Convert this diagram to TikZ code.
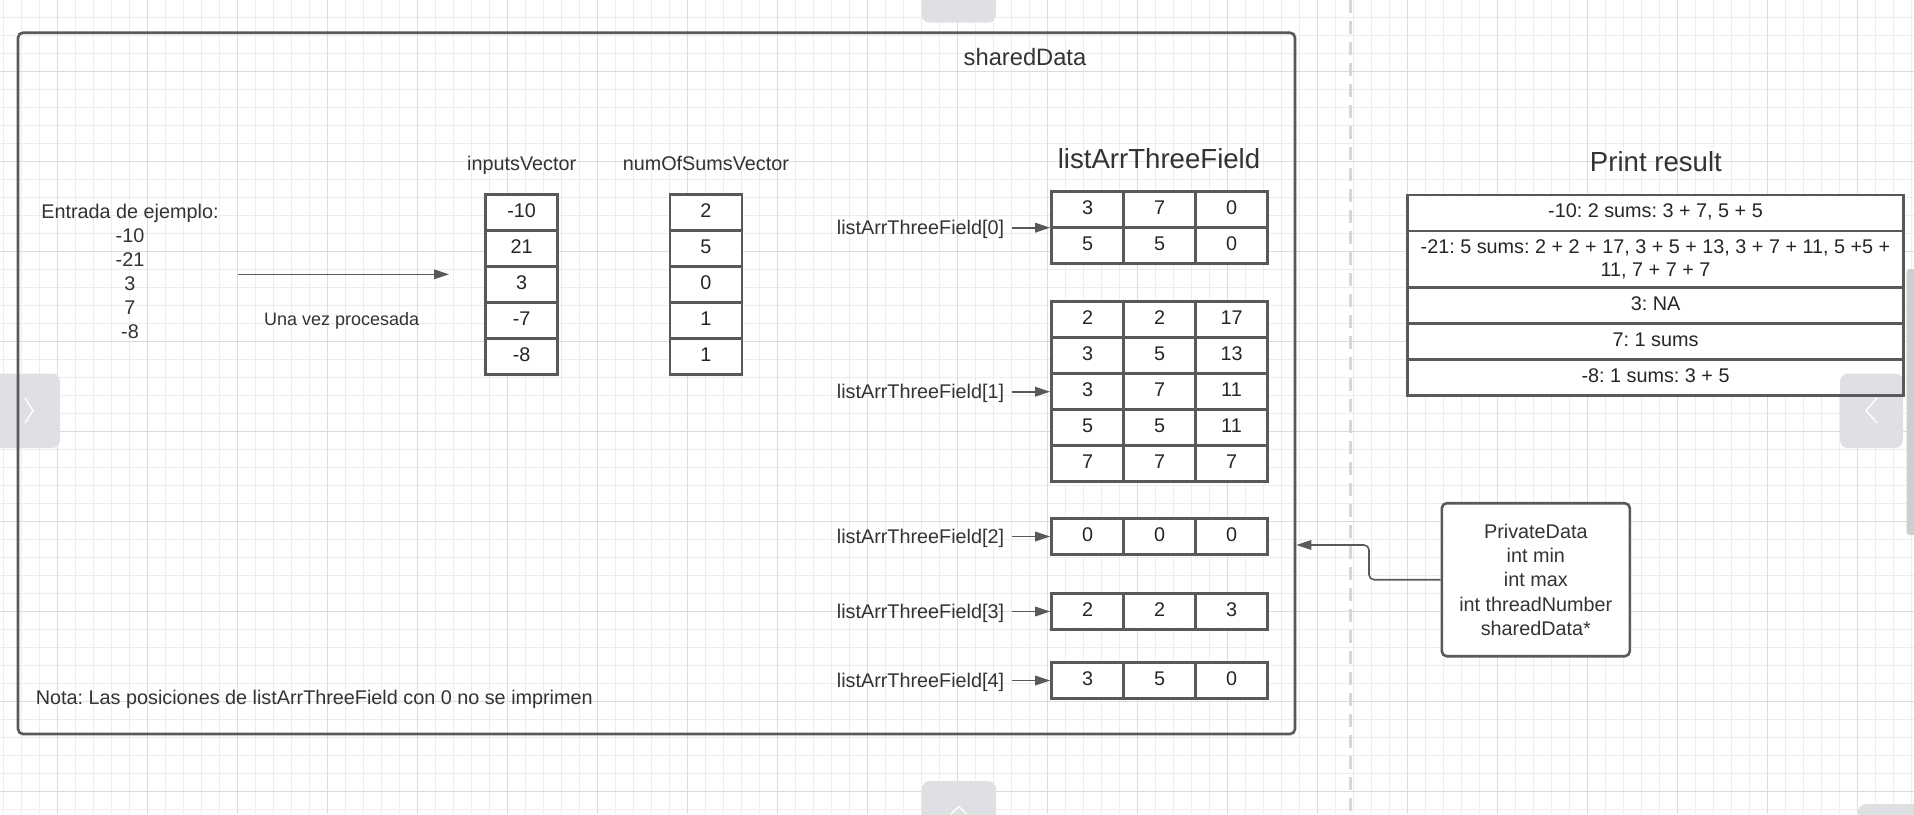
\documentclass[tikz,border=0pt]{standalone}
\usepackage{fontspec}
\setmainfont{Liberation Sans}
\usetikzlibrary{arrows.meta}
\definecolor{lc}{HTML}{595959}
\definecolor{tc}{HTML}{333333}
\definecolor{txtd}{HTML}{262626}
\definecolor{gmin}{HTML}{EDEDED}
\definecolor{gmaj}{HTML}{DCDCDC}
\definecolor{uigray}{HTML}{DFE0E3}
\definecolor{sepgray}{HTML}{D6D6D6}
\frenchspacing
\begin{document}
\begin{tikzpicture}[x=1pt,y=-1pt]
\tikzset{
  txtbase/.style={font=\fontsize{19.8}{24}\selectfont, text=tc, inner sep=0pt},
  cell/.style={txtbase, draw=lc, line width=2.6pt, fill=white, minimum width=72pt, minimum height=36pt, text height=14.2pt, text depth=4.5pt, text=txtd},
  prrow/.style={txtbase, draw=lc, line width=2.6pt, minimum width=496pt, text=txtd},
  arr/.style={draw=lc, line width=1.6pt, -{Triangle[length=15pt,width=9.5pt]}},
  lab/.style={txtbase, anchor=east, text height=14.2pt, text depth=0pt},
  ttl/.style={txtbase, font=\fontsize{27.6}{32}\selectfont, anchor=base},
  uibtn/.style={fill=uigray, rounded corners=8pt},
  chev/.style={draw=white, line width=1.4pt},
}
\useasboundingbox (0,0) rectangle (1914,814);
\fill[white] (0,0) rectangle (1914,814);
% grid
\foreach \x in {3.3,21.3,...,1914} \draw[gmin, line width=1pt] (\x,0) -- (\x,814);
\foreach \y in {17.7,35.7,...,814} \draw[gmin, line width=1pt] (0,\y) -- (1914,\y);
\foreach \x in {57.3,147.3,...,1914} \draw[gmaj, line width=1pt] (\x,0) -- (\x,814);
\foreach \y in {71.7,161.7,...,814} \draw[gmaj, line width=1pt] (0,\y) -- (1914,\y);
% separator
\draw[sepgray, line width=3pt, dash pattern=on 13pt off 8pt] (1350.7,0) -- (1350.7,814);
% print result background
\fill[white] (1407.5,195) rectangle (1903.5,395.5);
% UI overlays
\fill[uibtn] (921.7,-10) rectangle (996,22.7);
\fill[uibtn] (-10,373.5) rectangle (60,448);
\draw[chev] (25,398) -- (33,410.5) -- (25,423);
\fill[uibtn] (1840,373.5) rectangle (1903,448);
\draw[chev] (1877,398) -- (1866,410.5) -- (1877,423);
\fill[uigray!92!black, rounded corners=3pt] (1906.7,269) rectangle (1918,535);
\fill[uibtn] (921.7,781) rectangle (996,830);
\draw[chev] (951,814) -- (958.8,806.5) -- (966.6,814);
\fill[uibtn] (1858,804) rectangle (1930,840);
% frame
\node[draw=lc, line width=2.6pt, rounded corners=5pt, minimum width=1277pt, minimum height=701.3pt, inner sep=0pt] (shared) at (656.5,383.35) {};
\node[txtbase, font=\fontsize{23.7}{28}\selectfont, anchor=base] (sdlab) at (1025,65) {sharedData};
% entrada
\node[txtbase, align=center] (entrada) at (130,271.8) {Entrada de ejemplo:\\-10\\-21\\3\\7\\-8};
\coordinate (a1) at (238,274.3);
\coordinate (a2) at (449,274.3);
\draw[arr] (a1) -- (a2);
\node[txtbase, font=\fontsize{18}{22}\selectfont, anchor=base] (proc) at (341.7,325) {Una vez procesada};
% vectors
\node[txtbase, anchor=base] (ivlab) at (521.7,170.7) {inputsVector};
\node[txtbase, anchor=base] (nslab) at (705.9,170.7) {numOfSumsVector};
\foreach \v [count=\i] in {-10,21,3,-7,-8} \node[cell] (iv\i) at (521.7,{176.3+36*\i}) {\v};
\foreach \v [count=\i] in {2,5,0,1,1} \node[cell] (ns\i) at (705.9,{176.3+36*\i}) {\v};
% listArrThreeField
\node[ttl] (latitle) at (1159,168.3) {listArrThreeField};
\foreach \a/\b/\c [count=\r] in {3/7/0,5/5/0} {
  \node[cell] (t0-\r-1) at (1087.5,{173.7+36*\r}) {\a};
  \node[cell] (t0-\r-2) at (1159.5,{173.7+36*\r}) {\b};
  \node[cell] (t0-\r-3) at (1231.5,{173.7+36*\r}) {\c};
}
\foreach \a/\b/\c [count=\r] in {2/2/17,3/5/13,3/7/11,5/5/11,7/7/7} {
  \node[cell] (t1-\r-1) at (1087.5,{283.7+36*\r}) {\a};
  \node[cell] (t1-\r-2) at (1159.5,{283.7+36*\r}) {\b};
  \node[cell] (t1-\r-3) at (1231.5,{283.7+36*\r}) {\c};
}
\foreach \k/\y/\a/\b/\c in {2/536.5/0/0/0,3/611.5/2/2/3,4/680.5/3/5/0} {
  \node[cell] (t\k-1-1) at (1087.5,\y) {\a};
  \node[cell] (t\k-1-2) at (1159.5,\y) {\b};
  \node[cell] (t\k-1-3) at (1231.5,\y) {\c};
}
\node[lab] (l0) at (1004.3,227.7) {listArrThreeField[0]};
\node[lab] (l1) at (1004.3,391.7) {listArrThreeField[1]};
\node[lab] (l2) at (1004.3,536.5) {listArrThreeField[2]};
\node[lab] (l3) at (1004.3,611.5) {listArrThreeField[3]};
\node[lab] (l4) at (1004.3,680.5) {listArrThreeField[4]};
\draw[arr, shorten <=8pt] (l0.east) -- (l0.east -| t0-1-1.west);
\draw[arr, shorten <=8pt] (l1.east) -- (l1.east -| t1-1-1.west);
\draw[arr, shorten <=8pt] (l2.east) -- (l2.east -| t2-1-1.west);
\draw[arr, shorten <=8pt] (l3.east) -- (l3.east -| t3-1-1.west);
\draw[arr, shorten <=8pt] (l4.east) -- (l4.east -| t4-1-1.west);
% note
\node[txtbase, anchor=base west] (nota) at (35.7,704) {Nota: Las posiciones de listArrThreeField con 0 no se imprimen};
% print result
\node[ttl] (prtitle) at (1655.9,171.7) {Print result};
\node[prrow, minimum height=36pt, text height=14.2pt, text depth=4.5pt] (pr1) at (1655.5,213) {-10: 2 sums: 3 + 7, 5 + 5};
\node[prrow, minimum height=56.5pt, align=center, font=\fontsize{19.8}{23.3}\selectfont] (pr2) at (1655.5,259.25) {-21: 5 sums: 2 + 2 + 17, 3 + 5 + 13, 3 + 7 + 11, 5 +5 +\\11, 7 + 7 + 7};
\node[prrow, minimum height=36pt, text height=14.2pt, text depth=4.5pt] (pr3) at (1655.5,305.5) {3: NA};
\node[prrow, minimum height=36pt, text height=14.2pt, text depth=4.5pt] (pr4) at (1655.5,341.5) {7: 1 sums};
\node[prrow, minimum height=36pt, text height=14.2pt, text depth=4.5pt] (pr5) at (1655.5,377.5) {-8: 1 sums: 3 + 5};
% private data
\node[txtbase, draw=lc, line width=2.6pt, rounded corners=5pt, fill=white, minimum width=188pt, minimum height=153pt, align=center, font=\fontsize{19.8}{24.35}\selectfont] (pd) at (1535.8,579.7) {PrivateData\\int min\\int max\\int threadNumber\\sharedData*};
\coordinate (bend) at (1369,545);
\draw[arr, rounded corners=5pt] (pd.west) -| (bend) -- (bend -| shared.east);
\end{tikzpicture}
\end{document}
